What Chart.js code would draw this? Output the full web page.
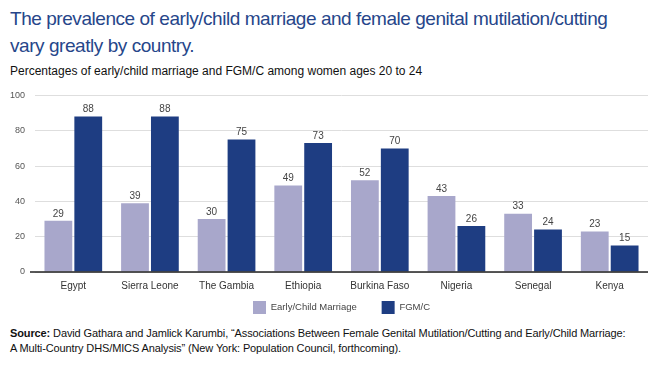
<!DOCTYPE html>
<html>
<head>
<meta charset="utf-8">
<script src="https://cdn.jsdelivr.net/npm/chart.js@4"></script>
<style>
  html, body { margin: 0; padding: 0; background: #fff; }
  body { width: 660px; height: 376px; position: relative; overflow: hidden;
         font-family: "Liberation Sans", Arial, Helvetica, sans-serif; }
  #title { position: absolute; left: 10px; top: 5px; width: 650px; font-size: 19px;
           letter-spacing: -0.45px; line-height: 27px; color: #26468a; white-space: nowrap; }
  #subtitle { position: absolute; left: 10px; top: 64px; font-size: 12px; color: #111; }
  #wrap { position: absolute; left: 0; top: 80px; width: 660px; height: 244px; }
  #source { position: absolute; left: 10px; top: 326px; width: 645px; font-size: 11px;
            letter-spacing: -0.12px; line-height: 15px; color: #111; white-space: nowrap; }
</style>
</head>
<body>
<div id="title">The prevalence of early/child marriage and female genital mutilation/cutting<br>vary greatly by country.</div>
<div id="subtitle">Percentages of early/child marriage and FGM/C among women ages 20 to 24</div>
<div id="wrap"><canvas id="chart"></canvas></div>
<div id="source"><b>Source:</b> David Gathara and Jamlick Karumbi, “Associations Between Female Genital Mutilation/Cutting and Early/Child Marriage:<br>A Multi-Country DHS/MICS Analysis” (New York: Population Council, forthcoming).</div>
<script>
// values
const countries = ["Egypt", "Sierra Leone", "The Gambia", "Ethiopia", "Burkina Faso", "Nigeria", "Senegal", "Kenya"];
const childMarriage = [29, 39, 30, 49, 52, 43, 33, 23];
const fgmc = [88, 88, 75, 73, 70, 26, 24, 15];
const yTicks = [0, 20, 40, 60, 80, 100];

const LIGHT = "#a8a7cb";
const DARK = "#1e3d82";

// numbers above each bar
const barLabels = {
  id: "barLabels",
  afterDatasetsDraw(chart) {
    const ctx = chart.ctx;
    ctx.save();
    ctx.font = "10px 'Liberation Sans', Arial, sans-serif";
    ctx.fillStyle = "#444";
    ctx.textAlign = "center";
    ctx.textBaseline = "bottom";
    chart.data.datasets.forEach((ds, i) => {
      chart.getDatasetMeta(i).data.forEach((bar, j) => {
        ctx.fillText(ds.data[j], bar.x, bar.y - 2);
      });
    });
    ctx.restore();
  },
};

// dark baseline at zero
const baseLine = {
  id: "baseLine",
  afterDatasetsDraw(chart) {
    const { ctx, chartArea } = chart;
    const y = chart.scales.y.getPixelForValue(0);
    ctx.save();
    ctx.strokeStyle = "#222";
    ctx.lineWidth = 1.5;
    ctx.beginPath();
    ctx.moveTo(chartArea.left - 5, y);
    ctx.lineTo(chartArea.right, y);
    ctx.stroke();
    ctx.restore();
  },
};

// centre the legend under the plot area rather than the whole canvas
const legendShift = {
  id: "legendShift",
  afterLayout(chart) {
    const lg = chart.legend;
    if (!lg) return;
    const dx = (chart.chartArea.left + chart.chartArea.right) / 2 - (lg.left + lg.right) / 2;
    lg.left += dx;
    lg.right += dx;
  },
};

new Chart(document.getElementById("chart"), {
  type: "bar",
  data: {
    labels: countries,
    datasets: [
      { label: "Early/Child Marriage", data: childMarriage, backgroundColor: LIGHT,
        categoryPercentage: 0.78, barPercentage: 0.93 },
      { label: "FGM/C", data: fgmc, backgroundColor: DARK,
        categoryPercentage: 0.78, barPercentage: 0.93 },
    ],
  },
  options: {
    responsive: true,
    maintainAspectRatio: false,
    animation: false,
    layout: { padding: { top: 5, right: 12, left: 0, bottom: 0 } },
    plugins: {
      legend: {
        position: "bottom",
        labels: {
          color: "#444", font: { size: 9.5 }, boxWidth: 13, boxHeight: 13, padding: 9,
          // wider gap between the two legend entries, as in the original
          generateLabels: (chart) => {
            const items = Chart.defaults.plugins.legend.labels.generateLabels(chart);
            items[0].text += "      ";
            return items;
          },
        },
      },
      tooltip: { enabled: false },
    },
    scales: {
      x: {
        grid: { display: false },
        border: { display: false },
        ticks: { color: "#333", font: { size: 10 }, maxRotation: 0, padding: 0 },
      },
      y: {
        min: 0,
        max: 100,
        afterBuildTicks: (axis) => { axis.ticks = yTicks.map((v) => ({ value: v })); },
        afterFit: (axis) => { axis.width = 35; },
        grid: { color: "#dedede", drawTicks: false },
        border: { display: false },
        ticks: { color: "#555", font: { size: 9 }, padding: 10 },
      },
    },
  },
  plugins: [barLabels, baseLine, legendShift],
});
</script>
</body>
</html>
